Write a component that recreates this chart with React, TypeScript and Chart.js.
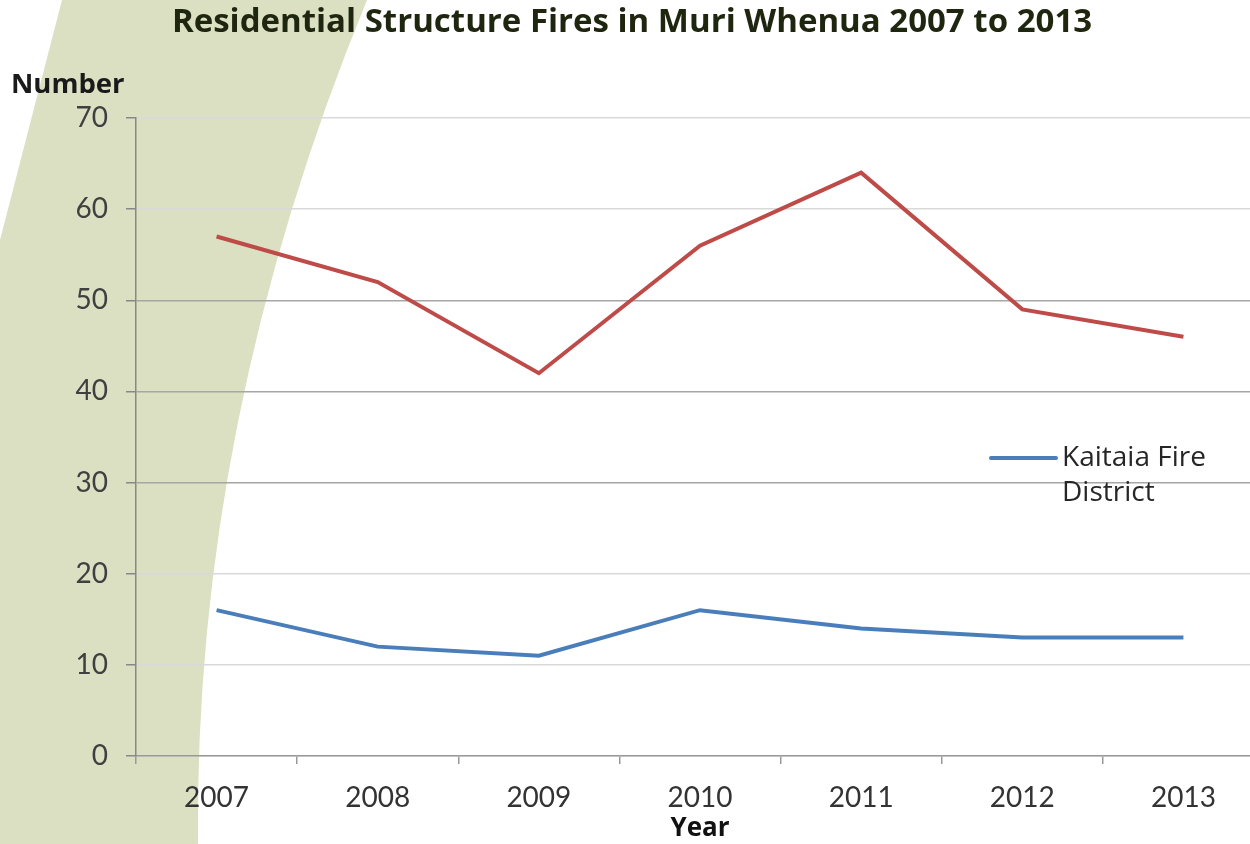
import React, { useEffect, useRef } from "react";
import { Chart, registerables } from "chart.js";

Chart.register(...registerables);

const years = ["2007", "2008", "2009", "2010", "2011", "2012", "2013"];
const muriWhenua = [57, 52, 42, 56, 64, 49, 46];
const kaitaia = [16, 12, 11, 16, 14, 13, 13];
const yMin = 0;
const yMax = 70;
const yStep = 10;
const darkGridValues = [30, 40, 50];
const legendLines = ["Kaitaia Fire", "District"];
const titleText = "Residential Structure Fires in Muri Whenua 2007 to 2013";
const yTitle = "Number";
const xTitle = "Year";

const FONT = "Lato, 'Open Sans', sans-serif";
const WIDE_FONT = "'Open Sans', Lato, sans-serif";
const RED = "#be4b48";
const BLUE = "#4a7ebb";

const bandPlugin = {
  id: "band",
  beforeDraw(chart: any) {
    const ctx = chart.ctx;
    ctx.save();
    ctx.fillStyle = "#dbe0c2";
    ctx.beginPath();
    ctx.moveTo(62, 0);
    ctx.lineTo(367, 0);
    ctx.quadraticCurveTo(193.5, 422, 198, 844);
    ctx.lineTo(0, 844);
    ctx.lineTo(0, 240);
    ctx.closePath();
    ctx.fill();
    ctx.restore();
  },
};

const textPlugin = {
  id: "extraText",
  afterDraw(chart: any) {
    const ctx = chart.ctx;
    ctx.save();
    ctx.font = `bold 27.5px ${WIDE_FONT}`;
    ctx.fillStyle = "#1a1a1a";
    ctx.textAlign = "left";
    ctx.textBaseline = "middle";
    ctx.fillText(yTitle, 11, 85);

    const ds = chart.data.datasets[1];
    ctx.strokeStyle = ds.borderColor;
    ctx.lineWidth = 4;
    ctx.lineCap = "round";
    ctx.beginPath();
    ctx.moveTo(991, 458);
    ctx.lineTo(1056, 458);
    ctx.stroke();
    ctx.font = `28px ${WIDE_FONT}`;
    ctx.fillStyle = "#262626";
    legendLines.forEach((line, i) => {
      ctx.fillText(line, 1062, 458 + i * 35);
    });
    ctx.restore();
  },
};

export default function App() {
  const canvasRef = useRef<HTMLCanvasElement | null>(null);

  useEffect(() => {
    if (!canvasRef.current) return;
    const chart = new Chart(canvasRef.current, {
      type: "line",
      data: {
        labels: years,
        datasets: [
          {
            label: "Muri Whenua",
            data: muriWhenua,
            borderColor: RED,
            backgroundColor: RED,
            borderWidth: 4,
            pointRadius: 0,
            tension: 0,
          },
          {
            label: legendLines.join(" "),
            data: kaitaia,
            borderColor: BLUE,
            backgroundColor: BLUE,
            borderWidth: 4,
            pointRadius: 0,
            tension: 0,
          },
        ],
      },
      options: {
        animation: false,
        responsive: false,
        devicePixelRatio: 1,
        layout: { padding: { top: 0, left: 0, right: 16, bottom: 0 } },
        plugins: {
          legend: { display: false },
          tooltip: { enabled: false },
          title: {
            display: true,
            text: titleText,
            color: "#1f2610",
            font: { family: WIDE_FONT, size: 33, weight: "bold", lineHeight: 1.2 },
            padding: { top: 3, bottom: 75.4 },
          },
        },
        scales: {
          x: {
            type: "category",
            offset: true,
            grid: {
              offset: true,
              drawOnChartArea: false,
              drawTicks: true,
              tickLength: 8,
              color: "#999999",
              lineWidth: 1.5,
            },
            border: { display: true, color: "#999999", width: 1.5 },
            ticks: {
              font: { family: FONT, size: 28 },
              color: "#333333",
              padding: 17,
              maxRotation: 0,
            },
            title: {
              display: true,
              text: xTitle,
              color: "#111111",
              font: { family: WIDE_FONT, size: 26, weight: "bold" },
              padding: { top: 0, bottom: 0 },
            },
            afterFit(scale: any) {
              scale.height = 88;
            },
          },
          y: {
            min: yMin,
            max: yMax,
            ticks: {
              stepSize: yStep,
              font: { family: FONT, size: 28 },
              color: "#404040",
              padding: 18,
            },
            grid: {
              color: (ctx: any) =>
                darkGridValues.includes(ctx.tick?.value) ? "#a6a6a6" : "#d9d9d9",
              lineWidth: 1.5,
              tickLength: 10,
              tickColor: "#888888",
            },
            border: { display: true, color: "#888888", width: 1.5 },
            afterFit(scale: any) {
              scale.width = 136;
            },
          },
        },
      },
      plugins: [bandPlugin, textPlugin],
    } as any);
    return () => chart.destroy();
  }, []);

  return (
    <div
      style={{
        position: "fixed",
        left: 0,
        top: 0,
        width: 1250,
        height: 844,
        overflow: "hidden",
        background: "#ffffff",
      }}
    >
      <canvas
        ref={canvasRef}
        width={1280}
        height={844}
        style={{ width: 1280, height: 844, display: "block" }}
      />
    </div>
  );
}
